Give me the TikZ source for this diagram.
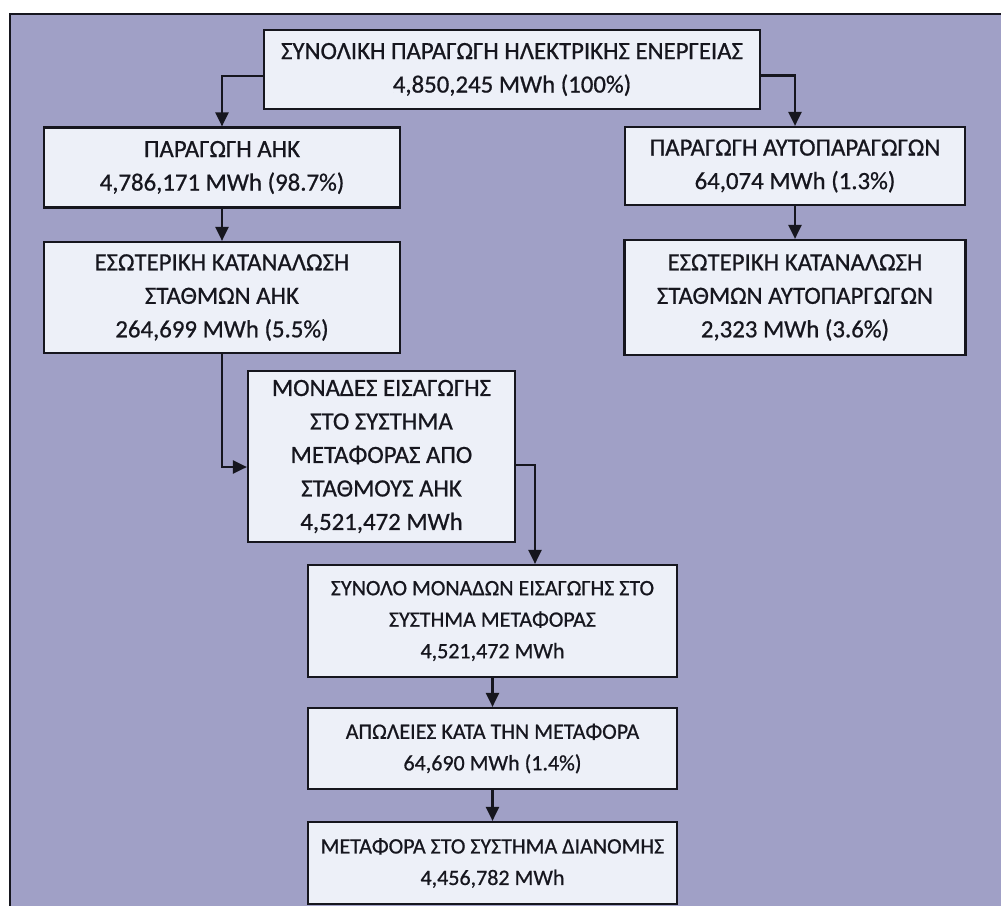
\documentclass[tikz,border=0pt]{standalone}
\usepackage{fontspec}
\setmainfont{Carlito}[FakeBold=0.7]
\usetikzlibrary{arrows.meta,calc}
\definecolor{bgc}{RGB}{160,160,198}
\definecolor{boxc}{RGB}{237,240,248}
\definecolor{inkc}{RGB}{22,22,30}
\begin{document}
\begin{tikzpicture}[x=1pt,y=-1pt,
  box/.style={draw=inkc,line width=2.2pt,fill=boxc,text=inkc,align=center,inner sep=0pt,
    font=\fontsize{24.8}{33.5}\selectfont},
  smallbox/.style={box,font=\fontsize{22}{31.5}\selectfont},
  arr/.style={draw=inkc,line width=2.2pt,-{Triangle[length=14pt,width=13pt]}}]
\useasboundingbox (0,0) rectangle (1001,905);
\fill[white] (0,0) rectangle (1001,905);
\draw[line width=2pt,draw=inkc,fill=bgc] (10,14) rectangle (1012,918);

\node[box,minimum width=496pt,minimum height=79pt] (n1) at (512,69.5)
  {ΣΥΝΟΛΙΚΗ ΠΑΡΑΓΩΓΗ ΗΛΕΚΤΡΙΚΗΣ ΕΝΕΡΓΕΙΑΣ\\4,850,245 MWh (100\%)};
\node[box,minimum width=356pt,minimum height=80pt] (n2) at (222,167.5)
  {ΠΑΡΑΓΩΓΗ ΑΗΚ\\4,786,171 MWh (98.7\%)};
\node[box,minimum width=340pt,minimum height=78pt] (n3) at (795,166)
  {ΠΑΡΑΓΩΓΗ ΑΥΤΟΠΑΡΑΓΩΓΩΝ\\64,074 MWh (1.3\%)};
\node[box,minimum width=356pt,minimum height=111pt] (n4) at (222,297.5)
  {ΕΣΩΤΕΡΙΚΗ ΚΑΤΑΝΑΛΩΣΗ\\ΣΤΑΘΜΩΝ ΑΗΚ\\264,699 MWh (5.5\%)};
\node[box,minimum width=341pt,minimum height=115pt] (n5) at (795,297.5)
  {ΕΣΩΤΕΡΙΚΗ ΚΑΤΑΝΑΛΩΣΗ\\ΣΤΑΘΜΩΝ ΑΥΤΟΠΑΡΓΩΓΩΝ\\2,323 MWh (3.6\%)};
\node[box,minimum width=267pt,minimum height=171pt] (n6) at (381.5,456.5)
  {ΜΟΝΑΔΕΣ ΕΙΣΑΓΩΓΗΣ\\ΣΤΟ ΣΥΣΤΗΜΑ\\ΜΕΤΑΦΟΡΑΣ ΑΠΟ\\ΣΤΑΘΜΟΥΣ ΑΗΚ\\4,521,472 MWh};
\node[smallbox,minimum width=369pt,minimum height=112pt] (n7) at (492.5,621)
  {ΣΥΝΟΛΟ ΜΟΝΑΔΩΝ ΕΙΣΑΓΩΓΗΣ ΣΤΟ\\ΣΥΣΤΗΜΑ ΜΕΤΑΦΟΡΑΣ\\4,521,472 MWh};
\node[smallbox,minimum width=369pt,minimum height=81pt] (n8) at (492.5,748.5)
  {ΑΠΩΛΕΙΕΣ ΚΑΤΑ ΤΗΝ ΜΕΤΑΦΟΡΑ\\64,690 MWh (1.4\%)};
\node[smallbox,minimum width=369pt,minimum height=82pt] (n9) at (492.5,863)
  {ΜΕΤΑΦΟΡΑ ΣΤΟ ΣΥΣΤΗΜΑ ΔΙΑΝΟΜΗΣ\\4,456,782 MWh};

\draw[arr] ([yshift=-6.5pt]n1.west) -| (n2.north);
\draw[arr] ([yshift=-6pt]n1.east) -| (n3.north);
\draw[arr] (n2.south) -- (n4.north);
\draw[arr] (n3.south) -- (n5.north);
\draw[arr] (n4.south) |- ([yshift=-10.5pt]n6.west);
\draw[arr] ([yshift=-8.5pt]n6.east) -| ([xshift=42.5pt]n7.north);
\draw[arr] (n7.south) -- (n8.north);
\draw[arr] (n8.south) -- (n9.north);
\end{tikzpicture}
\end{document}
